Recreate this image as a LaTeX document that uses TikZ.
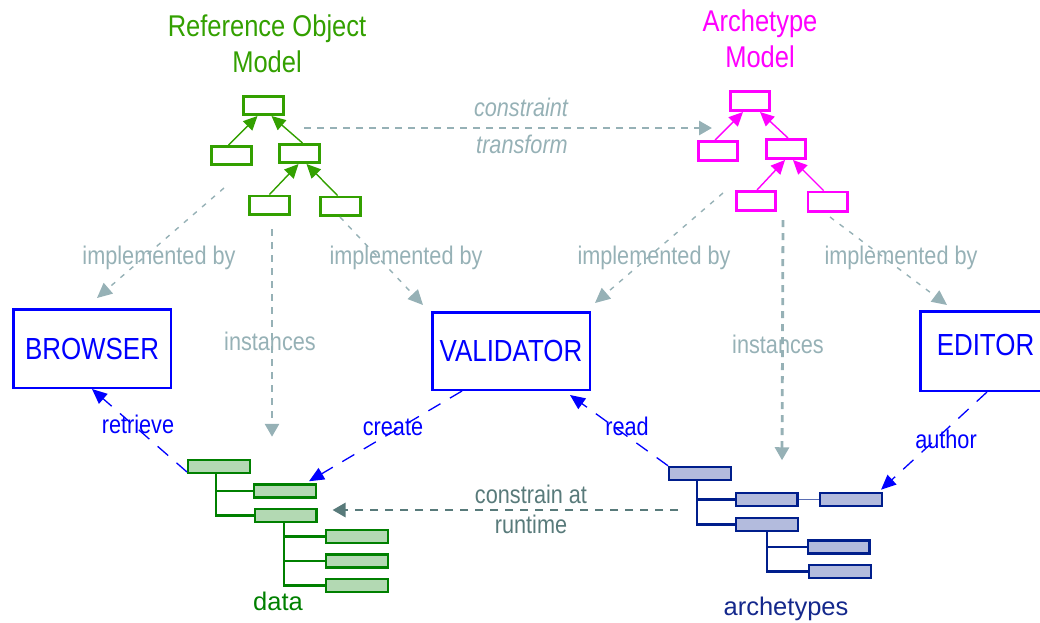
\documentclass[tikz,border=0pt]{standalone}
\usepackage{fontspec}
\setmainfont[FakeStretch=0.85]{Liberation Sans}
\newfontfamily\widefont{Liberation Sans}
\usetikzlibrary{arrows.meta,calc}

\definecolor{romgreen}{RGB}{51,160,0}
\definecolor{archmag}{RGB}{255,0,255}
\definecolor{linkgray}{RGB}{150,177,182}
\definecolor{rtteal}{RGB}{88,122,122}
\definecolor{toolblue}{RGB}{0,0,255}
\definecolor{datagreen}{RGB}{0,128,0}
\definecolor{datafill}{RGB}{179,217,179}
\definecolor{atnavy}{RGB}{0,30,140}
\definecolor{atfill}{RGB}{179,187,221}
\definecolor{atlinkc}{RGB}{90,110,180}
\definecolor{attext}{RGB}{20,40,140}

\newcommand\lblfont{\fontsize{25.5}{30}\selectfont}
\newcommand\hdrfont{\fontsize{30}{36}\selectfont}
\newcommand\toolfont{\fontsize{30.5}{36}\selectfont}
\newcommand\bottomfont{\widefont\fontsize{25.5}{30}\selectfont}

\tikzset{
  rombox/.style={draw=romgreen, line width=2.7pt, minimum width=40.3pt, minimum height=18.3pt, inner sep=0pt},
  archbox/.style={draw=archmag, line width=2.7pt, minimum width=39.3pt, minimum height=19.3pt, inner sep=0pt},
  romarr/.style={draw=romgreen, line width=1.4pt, -{Triangle[length=14pt,width=13pt]}, fill=romgreen},
  archarr/.style={draw=archmag, line width=1.4pt, -{Triangle[length=14pt,width=13pt]}, fill=archmag},
  databox/.style={draw=datagreen, fill=datafill, line width=2.4pt, minimum width=61.6pt, minimum height=13.1pt, inner sep=0pt},
  atbox/.style={draw=atnavy, fill=atfill, line width=2.4pt, minimum width=61.6pt, minimum height=13.1pt, inner sep=0pt},
  dataline/.style={draw=datagreen, line width=2.4pt},
  atline/.style={draw=atnavy, line width=2.4pt},
  toolbox/.style={draw=toolblue, line width=2.5pt, text=toolblue, font=\toolfont, inner sep=0pt},
  implarr/.style={draw=linkgray, line width=1.4pt, dash pattern=on 5pt off 7pt,
    -{Triangle[length=15pt,width=14pt]}},
  instarr/.style={draw=linkgray, line width=2.8pt, dash pattern=on 7pt off 6pt,
    -{Triangle[length=13pt,width=14pt]}},
  actarr/.style={draw=toolblue, line width=1.3pt, dash pattern=on 14pt off 11pt,
    -{Triangle[length=15pt,width=13pt]}},
  rtarr/.style={draw=rtteal, line width=2.8pt, dash pattern=on 8pt off 7pt,
    -{Triangle[length=13pt,width=14pt]}},
  glabel/.style={text=linkgray, font=\lblfont, anchor=base, inner sep=0pt},
  blabel/.style={text=toolblue, font=\lblfont, anchor=base, inner sep=0pt},
  hdr/.style={font=\hdrfont, align=center, anchor=base, inner sep=0pt},
}

\begin{document}
\begin{tikzpicture}[x=1pt, y=-1pt]
\useasboundingbox (0,0) rectangle (1040,622);
\clip (0,0) rectangle (1040,622);

% ---- headings (anchored at the baseline of their last line) ----
\node[hdr, text=romgreen] (romtitle) at (267,72) {Reference Object\\Model};
\node[hdr, text=archmag] (archtitle) at (760,67) {Archetype\\Model};

% ---- reference object model tree ----
\node[rombox] (rt)  at (263.5,105.5) {};
\node[rombox] (rl)  at (231.5,155.5) {};
\node[rombox] (rr)  at (299.5,153.5) {};
\node[rombox] (rgl) at (269.5,205) {};
\node[rombox] (rgr) at (340.5,206) {};
\draw[romarr] ([xshift=-3pt]rl.north) -- ([xshift=-6pt]rt.south);
\draw[romarr] ([xshift=3pt]rr.north) -- ([xshift=8pt]rt.south);
\draw[romarr] (rgl.north) -- ([xshift=-1pt]rr.south);
\draw[romarr] ([xshift=-3pt]rgr.north) -- ([xshift=7pt]rr.south);

% ---- archetype model tree ----
\node[archbox] (at)  at (750,101) {};
\node[archbox] (al)  at (718,151) {};
\node[archbox] (ar)  at (786,149) {};
\node[archbox] (agl) at (756,201) {};
\node[archbox] (agr) at (827.5,201.5) {};
\draw[archarr] ([xshift=-3pt]al.north) -- ([xshift=-7pt]at.south);
\draw[archarr] ([xshift=2pt]ar.north) -- ([xshift=10pt]at.south);
\draw[archarr] ([xshift=1pt]agl.north) -- ([xshift=-1pt]ar.south);
\draw[archarr] ([xshift=-4pt]agr.north) -- ([xshift=7pt]ar.south);

% ---- constraint transform ----
\coordinate (ctfrom) at (304,128);
\coordinate (ctto) at (712,128);
\draw[instarr] (ctfrom) -- (ctto);
\node[glabel, font=\lblfont\itshape] (ctlab1) at (521,116) {constraint};
\node[glabel, font=\lblfont\itshape] (ctlab2) at (522,153) {transform};

% ---- tools ----
\node[toolbox, minimum width=157.5pt, minimum height=78.5pt] (browser) at (92,348.5) {BROWSER};
\node[toolbox, minimum width=157.5pt, minimum height=77.5pt] (validator) at (511,351) {VALIDATOR};
\node[toolbox, minimum width=130.5pt, minimum height=79.5pt, text depth=12pt] (editor) at (985.5,351) {EDITOR};

% ---- data instance tree ----
\node[databox] (droot) at (219,466.5) {};
\node[databox] (dc1) at (285,491) {};
\node[databox] (dc2) at (285.5,515.5) {};
\node[databox] (dg1) at (357,536.5) {};
\node[databox] (dg2) at (357,561) {};
\node[databox] (dg3) at (357,585.5) {};
\draw[dataline] ([xshift=-3pt]droot.south) |- (dc1.west);
\draw[dataline] ([xshift=-3pt]droot.south) |- (dc2.west);
\draw[dataline] ([xshift=-1.5pt]dc2.south) |- (dg1.west);
\draw[dataline] ([xshift=-1.5pt]dc2.south) |- (dg2.west);
\draw[dataline] ([xshift=-1.5pt]dc2.south) |- (dg3.west);
\node[anchor=base, inner sep=0pt, text=datagreen, font=\bottomfont] (datalab) at (278,610) {data};

% ---- archetype tree ----
\node[atbox] (aroot) at (700,473.5) {};
\node[atbox] (ac1) at (766.5,499.5) {};
\node[atbox] (aauth) at (851,499.5) {};
\node[atbox] (ac2) at (767,524.5) {};
\node[atbox] (ag1) at (838.5,547) {};
\node[atbox] (ag2) at (840,571.5) {};
\draw[atline] ([xshift=-3pt]aroot.south) |- (ac1.west);
\draw[atline] ([xshift=-3pt]aroot.south) |- (ac2.west);
\draw[atline] (ac2.south) |- (ag1.west);
\draw[atline] (ac2.south) |- (ag2.west);
\draw[draw=atlinkc, line width=1.6pt] (ac1.east) -- (aauth.west);
\node[anchor=base, inner sep=0pt, text=attext, font=\bottomfont] (atlab) at (786,615) {archetypes};

% ---- implemented by ----
\coordinate (romimplb) at (224,188);
\coordinate (romimplv) at (340,217);
\coordinate (archimplv) at (723,193);
\coordinate (archimple) at (830,217);
\draw[implarr] (romimplb) -- ([xshift=5pt,yshift=10pt]browser.north);
\draw[implarr] (romimplv) -- ([xshift=-88pt,yshift=6pt]validator.north);
\draw[implarr] (archimplv) -- ([xshift=4pt,yshift=8pt]validator.north east);
\draw[implarr] (archimple) -- ([xshift=28pt,yshift=5pt]editor.north west);
\node[glabel] (impl1) at (159,264) {implemented by};
\node[glabel] (impl2) at (406,264) {implemented by};
\node[glabel] (impl3) at (654,264) {implemented by};
\node[glabel] (impl4) at (901,264) {implemented by};

% ---- instances ----
\coordinate (rominst) at (272,229);
\coordinate (archinst) at (783,220);
\draw[instarr] (rominst) -- ([xshift=53pt,yshift=22pt]droot.north);
\draw[instarr] (archinst) -- ([xshift=82pt,yshift=5.5pt]aroot.north);
\node[glabel] (inst1) at (270,350) {instances};
\node[glabel] (inst2) at (778,353) {instances};

% ---- tool actions ----
\draw[actarr] ([yshift=-5.5pt]droot.west) -- (browser.south);
\draw[actarr] ([xshift=-49pt]validator.south) -- ([xshift=-8pt,yshift=2pt]dc1.north east);
\draw[actarr] (aroot.north west) -- ([xshift=-21pt,yshift=-4pt]validator.south east);
\draw[actarr] ([xshift=1.5pt]editor.south) -- ([xshift=-2pt,yshift=2pt]aauth.north east);
\node[blabel] (retr) at (138,433) {retrieve};
\node[blabel] (crea) at (393,435) {create};
\node[blabel] (rd) at (627,435) {read};
\node[blabel] (auth) at (946,448) {author};

% ---- constrain at runtime ----
\coordinate (rtfrom) at (678,510);
\draw[rtarr] (rtfrom) -- ([xshift=15pt,yshift=5.5pt]dc2.east);
\node[glabel, text=rtteal, align=center] (rtlab) at (531,533) {constrain at\\runtime};

\end{tikzpicture}
\end{document}
